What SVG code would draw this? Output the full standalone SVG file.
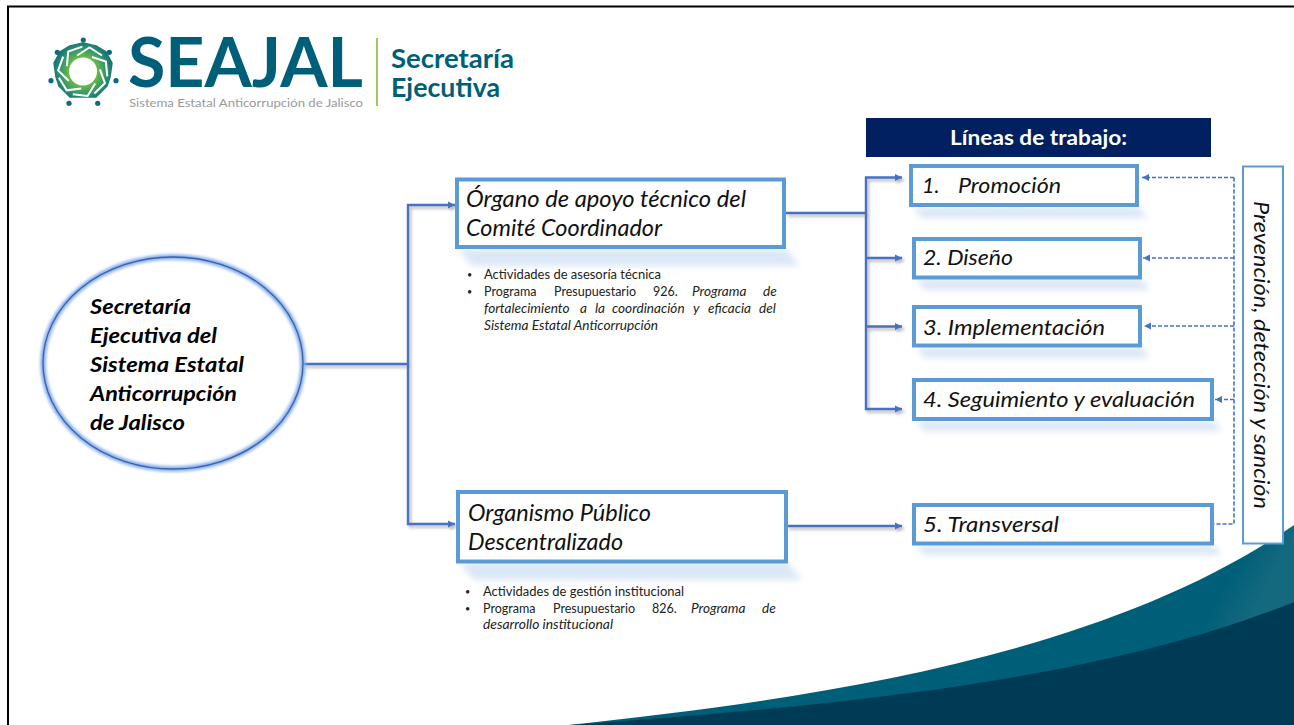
<svg xmlns="http://www.w3.org/2000/svg" xmlns:xlink="http://www.w3.org/1999/xlink" width="1294" height="725" viewBox="0 0 1294 725">
<style>
text{font-family:"Lato","Open Sans","Liberation Sans",sans-serif;fill:#111}
.box{fill:#fff;stroke:#5b9bd5;stroke-width:4}
.shadow{fill:#dbe7f6;filter:url(#blur3)}
.big{font-size:23px;font-style:italic}
.mid{font-size:21.5px;font-style:italic}
.small{font-size:12.5px;fill:#222}
.bul{font-size:9px;fill:#222}
.it{font-style:italic;font-size:13.6px}
.oval{font-size:20.5px;font-weight:700;font-style:italic;fill:#000}
.conn{fill:none;stroke:#4472c4;stroke-width:2.4}
.dash{fill:none;stroke:#4472c4;stroke-width:1.6;stroke-dasharray:4 2}
</style>
<defs>
<filter id="blur3" x="-10%" y="-60%" width="120%" height="220%"><feGaussianBlur stdDeviation="3"/></filter>
<filter id="glow" x="-10%" y="-10%" width="120%" height="120%"><feGaussianBlur stdDeviation="1.800"/></filter>
<filter id="cs" x="-5%" y="-5%" width="110%" height="110%"><feDropShadow dx="2" dy="2.5" stdDeviation="1.5" flood-color="#777" flood-opacity="0.55"/></filter>
<filter id="soft" x="-10%" y="-10%" width="120%" height="120%"><feGaussianBlur stdDeviation="0.4"/></filter>
<marker id="arr" markerUnits="userSpaceOnUse" markerWidth="9" markerHeight="9" refX="7" refY="4" orient="auto"><path d="M0 0.500L7 4L0 7.500z" fill="#4472c4"/></marker>
<radialGradient id="ring" gradientUnits="userSpaceOnUse" cx="83" cy="71.500" r="31"><stop offset="0.45" stop-color="#6cbb45"/><stop offset="0.7" stop-color="#3a9a68"/><stop offset="1" stop-color="#0f6f78"/></radialGradient>
<path id="swirl" d="M-5.800 -16L6.500 -24L19 -16" fill="none" stroke="#fff" stroke-width="2"/>
<linearGradient id="tealG" gradientUnits="userSpaceOnUse" x1="1240" y1="560" x2="1294" y2="590"><stop offset="0" stop-color="#005f78"/><stop offset="0.6" stop-color="#14697f"/><stop offset="1" stop-color="#14697f"/></linearGradient>
</defs>
<rect width="1294" height="725" fill="#fff"/>
<path d="M8 725V6.500H1294" fill="none" stroke="#000" stroke-width="2"/>
<g id="background">
<path d="M569 725C800 700 1100 660 1294 525V725Z" fill="url(#tealG)"/>
<path d="M569 725C850 705 1100 680 1294 602V725Z" fill="#003b55"/>
</g>
<g id="logo">
<g filter="url(#soft)">
<polygon points="83,43 96,46 106,52 112,63 110,77 107,86 96,97 83,97 70,97 59,86 56,77 54,63 60,52 70,46" fill="url(#ring)" stroke="url(#ring)" stroke-width="1.5" stroke-linejoin="round"/>
<circle cx="83" cy="71.500" r="14" fill="#fff"/>
<use xlink:href="#swirl" transform="translate(83 71.500)"/>
<use xlink:href="#swirl" transform="translate(83 71.500) rotate(51.430)"/>
<use xlink:href="#swirl" transform="translate(83 71.500) rotate(102.860)"/>
<use xlink:href="#swirl" transform="translate(83 71.500) rotate(154.290)"/>
<use xlink:href="#swirl" transform="translate(83 71.500) rotate(205.710)"/>
<use xlink:href="#swirl" transform="translate(83 71.500) rotate(257.140)"/>
<use xlink:href="#swirl" transform="translate(83 71.500) rotate(308.570)"/>
<g fill="#0f6a80">
<circle cx="83.300" cy="40" r="2.600"/><circle cx="109.300" cy="52.300" r="2.600"/><circle cx="116" cy="80.700" r="2.600"/><circle cx="97.700" cy="103.300" r="2.600"/><circle cx="69" cy="103.300" r="2.600"/><circle cx="51" cy="80.700" r="2.600"/><circle cx="57.300" cy="52.300" r="2.600"/>
</g>
</g>
<text x="128" y="87" font-size="69" font-weight="700" style="fill:#005f78" textLength="235" lengthAdjust="spacingAndGlyphs">SEAJAL</text>
<text x="129" y="106.500" font-size="12" style="fill:#9a9a9a" textLength="234" lengthAdjust="spacingAndGlyphs">Sistema Estatal Anticorrupción de Jalisco</text>
<rect x="376" y="38" width="2" height="68" fill="#a3c566"/>
<text x="391" y="68" font-size="27" font-weight="700" style="fill:#005f78" textLength="123" lengthAdjust="spacingAndGlyphs">Secretaría</text>
<text x="391" y="97" font-size="27" font-weight="700" style="fill:#005f78" textLength="109" lengthAdjust="spacingAndGlyphs">Ejecutiva</text>
</g>
<g id="shadows">
<polygon class="shadow" points="458,249 786,249 800,266 472,266"/>
<polygon class="shadow" points="459,562 787,562 802,580 473,580"/>
<polygon class="shadow" points="913,207 1139,207 1147,218 921,218"/>
<polygon class="shadow" points="916,279 1142,279 1150,290 924,290"/>
<polygon class="shadow" points="916,347 1142,347 1150,358 924,358"/>
<polygon class="shadow" points="916,421 1214,421 1222,431 924,431"/>
<polygon class="shadow" points="916,545 1214,545 1222,555 924,555"/>
</g>
<g id="connectors">
<g filter="url(#cs)">
<path class="conn" d="M303 364H408"/>
<path class="conn" d="M408 364V205H455" marker-end="url(#arr)"/>
<path class="conn" d="M408 364V524H455" marker-end="url(#arr)"/>
<path class="conn" d="M786 213H866"/>
<path class="conn" d="M866 213V177.500H902" marker-end="url(#arr)"/>
<path class="conn" d="M866 213V409H902" marker-end="url(#arr)"/>
<path class="conn" d="M866 258H902" marker-end="url(#arr)"/>
<path class="conn" d="M866 326.500H902" marker-end="url(#arr)"/>
<path class="conn" d="M787 526H902" marker-end="url(#arr)"/>
</g>
<path class="dash" d="M1234 177.500V524H1214"/>
<path class="dash" d="M1234 177.500H1142" marker-end="url(#arr)"/>
<path class="dash" d="M1234 258H1143" marker-end="url(#arr)"/>
<path class="dash" d="M1234 326H1144" marker-end="url(#arr)"/>
<path class="dash" d="M1234 399.500H1215" marker-end="url(#arr)"/>
</g>
<g id="secretaria">
<ellipse cx="173" cy="363" rx="130" ry="106" fill="#fff"/>
<ellipse cx="173" cy="363" rx="130" ry="106" fill="none" stroke="#86aeee" stroke-width="5.500" filter="url(#glow)"/>
<ellipse cx="173" cy="363" rx="130" ry="106" fill="none" stroke="#3a62a5" stroke-width="1.300"/>
<text class="oval" x="90" y="314" textLength="101" lengthAdjust="spacingAndGlyphs">Secretaría</text>
<text class="oval" x="90" y="343" textLength="127" lengthAdjust="spacingAndGlyphs">Ejecutiva del</text>
<text class="oval" x="90" y="372" textLength="154" lengthAdjust="spacingAndGlyphs">Sistema Estatal</text>
<text class="oval" x="90" y="401" textLength="147" lengthAdjust="spacingAndGlyphs">Anticorrupción</text>
<text class="oval" x="90" y="430" textLength="95" lengthAdjust="spacingAndGlyphs">de Jalisco</text>
</g>
<g id="organo">
<rect class="box" x="457" y="179.500" width="327" height="67.500"/>
<text class="big" x="466" y="207" textLength="280" lengthAdjust="spacingAndGlyphs">Órgano de apoyo técnico del</text>
<text class="big" x="466" y="236" textLength="196" lengthAdjust="spacingAndGlyphs">Comité Coordinador</text>
</g>
<g id="organo-notas">
<text class="bul" x="467" y="278">•</text>
<text class="small" x="484" y="279" textLength="177" lengthAdjust="spacingAndGlyphs">Actividades de asesoría técnica</text>
<text class="bul" x="467" y="295">•</text>
<text class="small" y="296"><tspan x="484">Programa </tspan><tspan x="554">Presupuestario </tspan><tspan x="653">926. </tspan><tspan x="692" class="it">Programa </tspan><tspan x="763" class="it">de</tspan></text>
<text class="small it" y="313"><tspan x="484">fortalecimiento </tspan><tspan x="580">a </tspan><tspan x="595">la </tspan><tspan x="612">coordinación </tspan><tspan x="693">y </tspan><tspan x="708">eficacia </tspan><tspan x="759">del</tspan></text>
<text class="small it" x="484" y="330" textLength="174" lengthAdjust="spacingAndGlyphs">Sistema Estatal Anticorrupción</text>
</g>
<g id="organismo">
<rect class="box" x="458" y="492" width="328" height="69.500"/>
<text class="big" x="468" y="521" textLength="183" lengthAdjust="spacingAndGlyphs">Organismo Público</text>
<text class="big" x="468" y="550" textLength="155" lengthAdjust="spacingAndGlyphs">Descentralizado</text>
</g>
<g id="organismo-notas">
<text class="bul" x="465" y="595">•</text>
<text class="small" x="483" y="596" textLength="201" lengthAdjust="spacingAndGlyphs">Actividades de gestión institucional</text>
<text class="bul" x="465" y="612">•</text>
<text class="small" y="613"><tspan x="483">Programa </tspan><tspan x="553">Presupuestario </tspan><tspan x="652">826. </tspan><tspan x="691" class="it">Programa </tspan><tspan x="762" class="it">de</tspan></text>
<text class="small it" x="483" y="629" textLength="130" lengthAdjust="spacingAndGlyphs">desarrollo institucional</text>
</g>
<g id="lineas-header">
<rect x="866" y="118" width="345" height="39" fill="#002060"/>
<text x="950" y="145" font-size="20" font-weight="700" style="fill:#fff" textLength="177" lengthAdjust="spacingAndGlyphs">Líneas de trabajo:</text>
</g>
<g id="l1">
<rect class="box" x="911" y="166" width="226" height="39"/>
<text class="mid" y="193"><tspan x="922">1. </tspan><tspan x="958" textLength="103" lengthAdjust="spacingAndGlyphs">Promoción</tspan></text>
</g>
<g id="l2">
<rect class="box" x="914" y="239" width="226" height="38.500"/>
<text class="mid" x="923" y="265" textLength="90" lengthAdjust="spacingAndGlyphs">2. Diseño</text>
</g>
<g id="l3">
<rect class="box" x="914" y="307" width="226" height="38.500"/>
<text class="mid" x="923" y="335" textLength="182" lengthAdjust="spacingAndGlyphs">3. Implementación</text>
</g>
<g id="l4">
<rect class="box" x="914" y="380" width="298" height="39"/>
<text class="mid" x="923" y="407" textLength="272" lengthAdjust="spacingAndGlyphs">4. Seguimiento y evaluación</text>
</g>
<g id="l5">
<rect class="box" x="914" y="505" width="298" height="38.500"/>
<text class="mid" x="923" y="532" textLength="136" lengthAdjust="spacingAndGlyphs">5. Transversal</text>
</g>
<g id="prevencion">
<rect x="1243" y="166.500" width="40" height="377" fill="#fff" stroke="#5b9bd5" stroke-width="2"/>
<text class="mid" transform="translate(1254 201) rotate(90)" textLength="308" lengthAdjust="spacingAndGlyphs">Prevención, detección y sanción</text>
</g>
</svg>
